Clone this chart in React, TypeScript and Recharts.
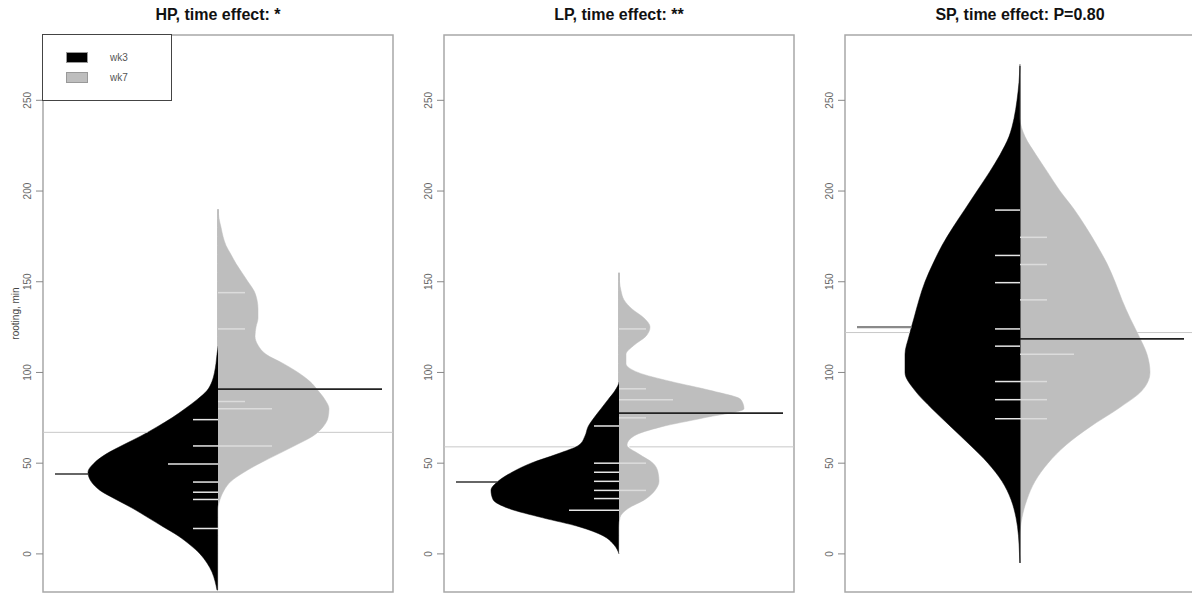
import React from "react";
import { ComposedChart, Area, XAxis, YAxis, ReferenceLine, ReferenceArea, Legend, Label } from "recharts";

// groups + titles
const groups = ["wk3", "wk7"];
const titles = ["HP, time effect: *", "LP, time effect: **", "SP, time effect: P=0.80"];
const yTicks = [0, 50, 100, 150, 200, 250];

// HP bean (half widths of the density)
const hpGrid = [190, 185, 180, 175, 170, 165, 160, 155, 150, 145, 140, 135, 130, 125, 120, 115, 110, 105, 100, 95, 90, 85, 80, 75, 70, 65, 60, 55, 50, 45, 40, 35, 30, 25, 20, 15, 10, 5, 0, -5, -10, -15, -20];
const hpWk3 = [0, 0, 0, 0, 0, 0, 0, 0, 0, 0, 0, 0, 0, 0, 0, 0, 1, 2, 3.5, 6, 11, 21, 33, 46, 61, 77, 95, 112, 124, 130, 127, 118, 102, 85, 70, 55, 40, 28, 18, 11, 6, 3, 1];
const hpWk7 = [0, 1, 3, 5, 8, 13, 18, 24, 30, 36, 39, 40, 40, 38, 37, 40, 48, 65, 80, 92, 100, 107, 111, 110, 105, 95, 78, 60, 42, 26, 13, 6, 2, 0, 0, 0, 0, 0, 0, 0, 0, 0, 0];
const hpObs3 = [74, 59.5, 49.6, 49.6, 39.6, 34, 30, 14];
const hpObs7 = [144, 124, 84, 80, 80, 59.5, 59.5];
const hpMeans = [44, 90.8];
const hpOverall = 67;

// LP bean
const lpGrid = [155, 150, 145, 140, 135, 130, 125, 120, 115, 110, 105, 100, 95, 90, 85, 80, 75, 70, 65, 60, 55, 50, 45, 40, 35, 30, 25, 20, 15, 10, 5, 0];
const lpWk3 = [0, 0, 0, 0, 0, 0, 0, 0, 0, 0, 0, 0, 0, 4, 11, 18, 25, 31, 34, 40, 62, 88, 107, 121, 128, 126, 110, 77, 40, 16, 5, 0];
const lpWk7 = [0, 0.5, 2, 5, 13, 25, 31, 27, 15, 7, 7, 19, 52, 92, 122, 125, 85, 42, 15, 8, 20, 34, 39, 40, 36, 26, 9, 1, 0, 0, 0, 0];
const lpObs3 = [70.5, 50, 45, 40, 35, 30.5, 24, 24];
const lpObs7 = [124, 91, 85, 85, 75, 50, 35];
const lpMeans = [39.6, 77.6];
const lpOverall = 59;

// SP bean
const spGrid = [270, 260, 250, 240, 230, 220, 210, 200, 190, 180, 170, 160, 150, 140, 130, 120, 110, 100, 90, 80, 70, 60, 50, 40, 30, 20, 10, 0, -5];
const spWk3 = [0, 1, 3, 6, 11, 20, 31, 43, 55, 67, 78, 87, 95, 101, 106, 111, 115, 115, 105, 88, 69, 50, 32, 18, 9, 4, 1.5, 0.5, 0];
const spWk7 = [0, 0, 0, 0, 5, 16, 28, 40, 54, 66, 77, 87, 95, 102, 110, 119, 127, 130, 122, 98, 70, 46, 28, 15, 7, 2, 0, 0, 0];
const spObs3 = [189.5, 164.5, 149.5, 124, 114.5, 95, 85, 74.5];
const spObs7 = [174.5, 159.5, 140, 110, 110, 95, 85, 74.5];
const spMeans = [125, 118.5];
const spOverall = 122;
const spStem = [-5, 269];

const BLACK = "#000000";
const GREY = "#bebebe";
const FONT = "Liberation Sans, Arial, sans-serif";

const mkRows = (grid: number[], w3: number[], w7: number[]) =>
  grid.map((v, i) => ({ v, a: -w3[i], b: w7[i] }));

// width of a bean at value v (linear between grid points), used to keep the
// overall-mean line outside the beans
const widthAt = (grid: number[], w: number[], v: number) => {
  for (let i = 0; i < grid.length - 1; i++) {
    const g0 = grid[i], g1 = grid[i + 1];
    if ((v <= g0 && v >= g1) || (v >= g0 && v <= g1)) {
      const t = (v - g0) / (g1 - g0);
      return w[i] + t * (w[i + 1] - w[i]);
    }
  }
  return 0;
};

const panels = [
  { grid: hpGrid, w3: hpWk3, w7: hpWk7, obs3: hpObs3, obs7: hpObs7, means: hpMeans, overall: hpOverall, stem: null, meanCol: ["#333", "#222"], meanW: 1.6 },
  { grid: lpGrid, w3: lpWk3, w7: lpWk7, obs3: lpObs3, obs7: lpObs7, means: lpMeans, overall: lpOverall, stem: null, meanCol: ["#333", "#222"], meanW: 1.6 },
  { grid: spGrid, w3: spWk3, w7: spWk7, obs3: spObs3, obs7: spObs7, means: spMeans, overall: spOverall, stem: spStem, meanCol: ["#8a8a8a", "#222"], meanW: 2.4 },
];

// count repeated observations -> longer bean lines
const countObs = (obs: number[]) => {
  const m = new Map<number, number>();
  obs.forEach((o) => m.set(o, (m.get(o) || 0) + 1));
  return Array.from(m.entries());
};

const RotTick = (props: any) => {
  const { x, y, payload } = props;
  const tx = x - 3;
  return (
    <text x={tx} y={y} transform={`rotate(-90 ${tx} ${y})`} textAnchor="middle" fontSize={10} fill="#666" fontFamily={FONT}>
      {payload.value}
    </text>
  );
};

const YLabel = (props: any) => {
  const vb = props.viewBox || { y: 35, height: 557 };
  const cy = vb.y + vb.height / 2;
  return (
    <text x={19} y={cy} transform={`rotate(-90 19 ${cy})`} textAnchor="middle" fontSize={10} fill="#444" fontFamily={FONT}>
      rooting, min
    </text>
  );
};

const legendFill: Record<string, string> = { wk3: BLACK, wk7: GREY };

const LegendBox = (props: any) => {
  const payload = props.payload || [];
  return (
    <div style={{ width: 128, height: 65, border: "1px solid #444", background: "#fff", position: "relative", fontFamily: FONT, fontSize: 10 }}>
      {payload.map((e: any, i: number) => (
        <div key={i} style={{ position: "absolute", left: 23, top: 17 + i * 20, display: "flex", alignItems: "center" }}>
          <span style={{ display: "inline-block", width: 20, height: 9, background: legendFill[e.value], border: "1px solid #999" }} />
          <span style={{ marginLeft: 22, color: "#555" }}>{e.value}</span>
        </div>
      ))}
    </div>
  );
};

const Bean = ({ idx }: { idx: number }) => {
  const p = panels[idx];
  const rows = mkRows(p.grid, p.w3, p.w7);
  const leftGap = -widthAt(p.grid, p.w3, p.overall);
  const rightGap = widthAt(p.grid, p.w7, p.overall);
  return (
    <div style={{ position: "absolute", left: idx * 401, top: 0, width: 401, height: 594 }}>
      <div style={{ position: "absolute", left: 43, top: 5, width: 350, textAlign: "center", fontFamily: FONT, fontWeight: "bold", fontSize: 16, lineHeight: "20px", color: "#111" }}>
        {titles[idx]}
      </div>
      <ComposedChart width={401} height={594} data={rows} layout="vertical" margin={{ top: 35, right: 8, bottom: 2, left: 3 }}>
        <XAxis type="number" domain={[-175, 175]} hide allowDataOverflow />
        <YAxis
          type="number"
          dataKey="v"
          domain={[-21, 286]}
          ticks={yTicks}
          interval={0}
          reversed
          allowDataOverflow
          width={40}
          tickSize={7}
          axisLine={false}
          tickLine={{ stroke: "#888" }}
          tick={<RotTick />}
        >
          {idx === 0 && <Label content={<YLabel />} />}
        </YAxis>
        <Area dataKey="a" name={groups[0]} type="monotone" baseValue={0} fill={BLACK} fillOpacity={1} stroke={BLACK} strokeWidth={0.5} isAnimationActive={false} dot={false} activeDot={false} />
        <Area dataKey="b" name={groups[1]} type="monotone" baseValue={0} fill={GREY} fillOpacity={1} stroke={GREY} strokeWidth={0.5} isAnimationActive={false} dot={false} activeDot={false} />
        {/* overall mean, kept outside the beans */}
        <ReferenceLine segment={[{ x: -175, y: p.overall }, { x: leftGap, y: p.overall }]} stroke="#c8c8c8" strokeWidth={1} />
        <ReferenceLine segment={[{ x: rightGap, y: p.overall }, { x: 175, y: p.overall }]} stroke="#c8c8c8" strokeWidth={1} />
        {p.stem && (
          <ReferenceLine segment={[{ x: 0, y: p.stem[0] }, { x: 0, y: p.stem[1] }]} stroke={BLACK} strokeWidth={1} />
        )}
        {countObs(p.obs3).map(([v, n]) => (
          <ReferenceLine key={`o3-${v}`} segment={[{ x: -25 * n, y: v }, { x: 0, y: v }]} stroke="#e6e6e6" strokeWidth={1.5} />
        ))}
        {countObs(p.obs7).map(([v, n]) => (
          <ReferenceLine key={`o7-${v}`} segment={[{ x: 0, y: v }, { x: 27 * n, y: v }]} stroke="#dcdcdc" strokeWidth={1.5} />
        ))}
        <ReferenceLine segment={[{ x: -163, y: p.means[0] }, { x: -widthAt(p.grid, p.w3, p.means[0]), y: p.means[0] }]} stroke={p.meanCol[0]} strokeWidth={p.meanW} />
        <ReferenceLine segment={[{ x: 0, y: p.means[1] }, { x: 164, y: p.means[1] }]} stroke={p.meanCol[1]} strokeWidth={1.6} />
        <ReferenceArea x1={-175} x2={175} y1={-21} y2={286} fill="none" stroke="#a8a8a8" strokeWidth={1.5} />
        {idx === 0 && (
          <Legend
            layout="horizontal"
            verticalAlign="middle"
            align="center"
            width={130}
            height={67}
            wrapperStyle={{ left: 42, top: 34, width: 130, height: 67 }}
            content={<LegendBox />}
          />
        )}
      </ComposedChart>
    </div>
  );
};

export default function App() {
  return (
    <div style={{ position: "absolute", left: 0, top: 0, width: 1192, height: 594, overflow: "hidden", background: "#fff" }}>
      <Bean idx={0} />
      <Bean idx={1} />
      <Bean idx={2} />
    </div>
  );
}
